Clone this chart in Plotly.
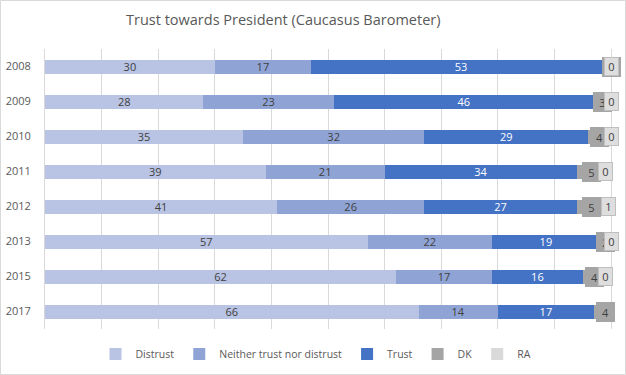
import plotly.graph_objects as go

years = ["2008", "2009", "2010", "2011", "2012", "2013", "2015", "2017"]
distrust = [30, 28, 35, 39, 41, 57, 62, 66]
neither = [17, 23, 32, 21, 26, 22, 17, 14]
trust = [53, 46, 29, 34, 27, 19, 16, 17]
dk = [0, 3, 4, 5, 5, 2, 4, 4]
ra = [0, 0, 0, 0, 1, 0, 0, None]

c_distrust = "#B9C3E3"
c_neither = "#8FA3D5"
c_trust = "#4472C4"
c_dk = "#A5A5A5"
c_ra = "#D9D9D9"
txt = "#404040"
FONT = "Open Sans"

W, H = 626, 375
ML, MR, MT, MB = 45, 15, 49, 46
PW, PH = W - ML - MR, H - MT - MB

fig = go.Figure()

def add_bar(name, vals, color, tcolor, show_text=True):
    fig.add_trace(go.Bar(
        name=name, y=years, x=[v if v is not None else 0 for v in vals], orientation="h",
        marker=dict(color=color, line=dict(width=0)),
        text=[str(v) if (v is not None and show_text) else "" for v in vals],
        textposition="inside" if show_text else "none",
        insidetextanchor="middle", textangle=0, constraintext="none",
        textfont=dict(family=FONT, size=11, color=tcolor),
        hoverinfo="skip", cliponaxis=False,
    ))

add_bar("Distrust", distrust, c_distrust, txt)
add_bar("Neither trust nor distrust", neither, c_neither, txt)
add_bar("Trust", trust, c_trust, "#FFFFFF")
add_bar("DK", dk, c_dk, txt, show_text=False)
add_bar("RA", ra, c_ra, txt, show_text=False)

annotations = []
for i, y in enumerate(years):
    base = distrust[i] + neither[i] + trust[i]
    if dk[i] is not None:
        annotations.append(dict(
            x=base + dk[i] / 2, y=i, xref="x", yref="y", text=str(dk[i]),
            showarrow=False, bgcolor=c_dk, borderpad=1, borderwidth=0,
            width=17, height=18, align="center", valign="middle",
            font=dict(family=FONT, size=11, color=txt)))
for i, y in enumerate(years):
    base = distrust[i] + neither[i] + trust[i] + (dk[i] or 0)
    if ra[i] is not None:
        annotations.append(dict(
            x=base + ra[i] / 2, y=i, xref="x", yref="y", text=str(ra[i]),
            showarrow=False, bgcolor="#DEDEDE", bordercolor="#BFBFBF",
            borderwidth=1, borderpad=1, width=11, height=15,
            align="center", valign="middle",
            font=dict(family=FONT, size=11, color=txt)))

annotations.append(dict(
    x=(283 - ML) / PW, y=1 + (MT - 20) / PH, xref="paper", yref="paper",
    text="Trust towards President (Caucasus Barometer)", showarrow=False,
    xanchor="center", yanchor="middle",
    font=dict(family=FONT, size=14.5, color="#595959")))

fig.update_layout(
    width=W, height=H,
    margin=dict(l=ML, r=MR, t=MT, b=MB, autoexpand=False),
    barmode="stack", bargap=0.6,
    paper_bgcolor="white", plot_bgcolor="white",
    font=dict(family=FONT, size=11, color="#595959"),
    showlegend=True,
    legend=dict(orientation="h", x=(316 - ML) / PW, xanchor="center",
                y=-(354 - (H - MB)) / PH, yanchor="middle",
                font=dict(family=FONT, size=10.5, color="#595959"),
                itemwidth=30, traceorder="normal"),
    annotations=annotations,
    shapes=[dict(type="rect", xref="paper", yref="paper",
                 x0=-(ML - 0.5) / PW, x1=1 + (MR - 0.5) / PW,
                 y0=-(MB - 0.5) / PH, y1=1 + (MT - 0.5) / PH,
                 line=dict(color="#D9D9D9", width=1), layer="below")],
    xaxis=dict(range=[0, 100], dtick=10, showticklabels=False, showgrid=True,
               gridcolor="#D9D9D9", gridwidth=1, zeroline=False, showline=False,
               fixedrange=True, automargin=False),
    yaxis=dict(type="category", range=[len(years) - 0.5, -0.5], showgrid=False, zeroline=False,
               showline=True, mirror=True, linecolor="#D9D9D9", linewidth=1,
               ticks="", ticklabelstandoff=11, automargin=False,
               tickfont=dict(family=FONT, size=11, color="#595959"),
               fixedrange=True),
)

fig.write_html("out.html", config={"displayModeBar": False},
               post_script="document.body.style.margin='0';document.body.style.overflow='hidden';")
